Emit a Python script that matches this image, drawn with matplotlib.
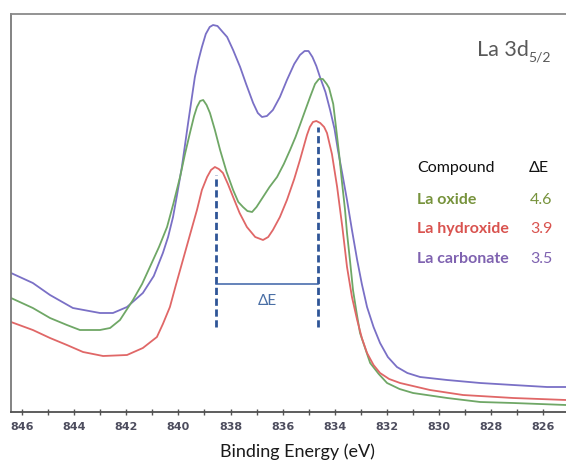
import matplotlib
matplotlib.use("Agg")
import matplotlib.pyplot as plt
from matplotlib.ticker import FixedLocator

# ---------------- data ----------------
carb_E = [846.44, 845.60, 844.94, 844.06, 843.02, 842.52, 841.98, 841.37, 840.95,
          840.60, 840.40, 840.21, 840.05, 839.87, 839.75, 839.63, 839.50, 839.37,
          839.23, 839.10, 838.95, 838.80, 838.67, 838.50, 838.30, 838.13, 837.90,
          837.63, 837.40, 837.13, 836.95, 836.79, 836.60, 836.37, 836.10, 835.83,
          835.55, 835.33, 835.15, 835.00, 834.85, 834.70, 834.56, 834.35, 834.17,
          834.00, 833.87, 833.70, 833.52, 833.33, 833.13, 832.95, 832.75, 832.50,
          832.25, 831.95, 831.60, 831.20, 830.71, 829.67, 828.40, 827.13, 825.83,
          825.10]
carb_I = [139, 129, 117, 104, 99, 99, 105, 119, 136,
          159, 175, 195, 218, 245, 267, 289, 312, 335,
          352, 365, 378, 385, 387, 386, 380, 375, 362,
          345, 328, 309, 299, 295, 296, 302, 315, 332,
          348, 357, 361, 361, 355, 346, 335, 320, 302,
          283, 262, 238, 212, 182, 152, 128, 105, 85,
          69, 55, 45, 39, 35, 32, 29, 27, 25,
          25]

oxide_E = [846.44, 845.60, 844.94, 844.29, 843.79, 843.02, 842.63, 842.25, 841.75,
           841.40, 841.10, 840.75, 840.44, 840.20, 839.94, 839.75, 839.56, 839.40,
           839.29, 839.17, 839.05, 838.92, 838.79, 838.60, 838.40, 838.15, 837.90,
           837.70, 837.52, 837.35, 837.17, 837.00, 836.75, 836.50, 836.21, 835.95,
           835.71, 835.50, 835.33, 835.15, 834.94, 834.75, 834.60, 834.45, 834.30,
           834.21, 834.05, 833.94, 833.82, 833.71, 833.60, 833.52, 833.40, 833.29,
           833.15, 833.02, 832.80, 832.63, 832.30, 831.98, 831.50, 830.98, 829.67,
           828.40, 827.13, 825.10]
oxide_I = [114, 104, 94, 87, 82, 82, 84, 92, 112,
           128, 145, 165, 185, 208, 235, 258, 279, 296,
           305, 311, 312, 307, 299, 282, 262, 240, 222,
           210, 205, 201, 200, 205, 215, 225, 235, 248,
           262, 275, 287, 300, 315, 328, 333, 333, 328,
           324, 308, 284, 257, 229, 203, 179, 150, 122,
           99, 79, 62, 49, 38, 29, 23, 19, 14,
           10, 9, 7]

hydr_E = [846.44, 845.60, 844.94, 844.29, 843.67, 842.90, 841.98, 841.37, 840.83,
          840.60, 840.33, 840.10, 839.83, 839.55, 839.29, 839.10, 838.90, 838.75,
          838.60, 838.45, 838.29, 838.10, 837.90, 837.65, 837.37, 837.05, 836.75,
          836.55, 836.37, 836.10, 835.83, 835.55, 835.33, 835.06, 834.95, 834.83,
          834.70, 834.55, 834.40, 834.29, 834.10, 833.90, 833.70, 833.52, 833.33,
          833.13, 832.95, 832.75, 832.50, 832.25, 831.90, 831.48, 830.33, 829.06,
          827.13, 825.10]
hydr_I = [90, 82, 74, 67, 60, 56, 57, 64, 75,
          88, 105, 127, 152, 178, 202, 222, 235, 242,
          245, 243, 239, 228, 215, 199, 185, 175, 172,
          175, 182, 195, 212, 233, 252, 277, 285, 290,
          291, 289, 285, 279, 258, 225, 185, 145, 115,
          92, 74, 59, 47, 39, 33, 29, 22, 17,
          14, 12]

compounds = ["La oxide", "La hydroxide", "La carbonate"]
delta_E = ["4.6", "3.9", "3.5"]
peak_left, peak_right = 838.55, 834.65   # hydroxide peaks marked by dashed lines

x_ticks = list(range(846, 824, -2))
x_minor = list(range(846, 824, -1))

# ---------------- styling ----------------
W, H = 566, 466
fig = plt.figure(figsize=(W / 100, H / 100), dpi=100)
ax = fig.add_axes([11 / W, 54 / H, 555 / W, 398 / H])

c_blue = "#7a70c6"
c_green = "#6fa766"
c_red = "#e06767"
txt_green = "#77933c"
txt_red = "#d9534f"
txt_purple = "#7f62b0"

ax.plot(carb_E, carb_I, color=c_blue, lw=1.3, solid_joinstyle="round")
ax.plot(oxide_E, oxide_I, color=c_green, lw=1.3, solid_joinstyle="round")
ax.plot(hydr_E, hydr_I, color=c_red, lw=1.3, solid_joinstyle="round")

ax.set_xlim(846.44, 825.10)
ax.set_ylim(0, 398)

# dashed markers and Delta E bracket
dash_col = "#2f5597"
ax.plot([peak_left, peak_left], [85, 237], color=dash_col, lw=2.0,
        linestyle=(0, (2.6, 1.3)))
ax.plot([peak_right, peak_right], [85, 285], color=dash_col, lw=2.0,
        linestyle=(0, (2.6, 1.3)))
ax.plot([peak_left, peak_right], [128, 128], color="#3a62a7", lw=1.1)
ax.text((peak_left + peak_right) / 2, 111, "ΔE", ha="center", va="center",
        fontsize=11, color="#4a6fa5", family=["Lato", "DejaVu Sans"])

# spines
ax.spines["right"].set_visible(False)
ax.spines["top"].set_color("#8a8a8a")
ax.spines["left"].set_color("#7a7a7a")
ax.spines["bottom"].set_color("#505050")
for s in ["top", "left", "bottom"]:
    ax.spines[s].set_linewidth(1.3)

ax.set_yticks([])
ax.xaxis.set_major_locator(FixedLocator(x_ticks))
ax.xaxis.set_minor_locator(FixedLocator(x_minor))
ax.tick_params(axis="x", which="both", direction="inout", length=5, width=1,
               color="#555555")
ax.tick_params(axis="x", which="major", pad=5, labelsize=8, labelcolor="#4d4d5e")
for lab in ax.get_xticklabels():
    lab.set_family(["Liberation Sans Narrow", "DejaVu Sans"])
    lab.set_fontweight("bold")

fam = ["Lato", "DejaVu Sans"]

def fy(y):
    return 1 - y / H

fig.text(297 / W, fy(457), "Binding Energy (eV)", ha="center", va="baseline",
         fontsize=13, color="#1a1a1a", family=fam)

# title La 3d5/2
fig.text(529 / W, fy(56), "La 3d", ha="right", va="baseline", fontsize=15.5,
         color="#595959", family=fam)
fig.text(528 / W, fy(61), "5/2", ha="left", va="baseline", fontsize=10,
         color="#595959", family=fam)

# table
fig.text(417 / W, fy(172), "Compound", ha="left", va="baseline", fontsize=11.5,
         color="#111111", family=fam)
fig.text(529 / W, fy(172), "ΔE", ha="left", va="baseline", fontsize=11.5,
         color="#111111", family=fam)
rows_y = [204, 233, 263]
cols = [txt_green, txt_red, txt_purple]
for name, val, yy, cc in zip(compounds, delta_E, rows_y, cols):
    fig.text(417 / W, fy(yy), name, ha="left", va="baseline", fontsize=11.5,
             color=cc, family=fam, fontweight="bold")
    fig.text(530 / W, fy(yy), val, ha="left", va="baseline", fontsize=11.5,
             color=cc, family=fam)

fig.savefig("out.png", dpi=100)
